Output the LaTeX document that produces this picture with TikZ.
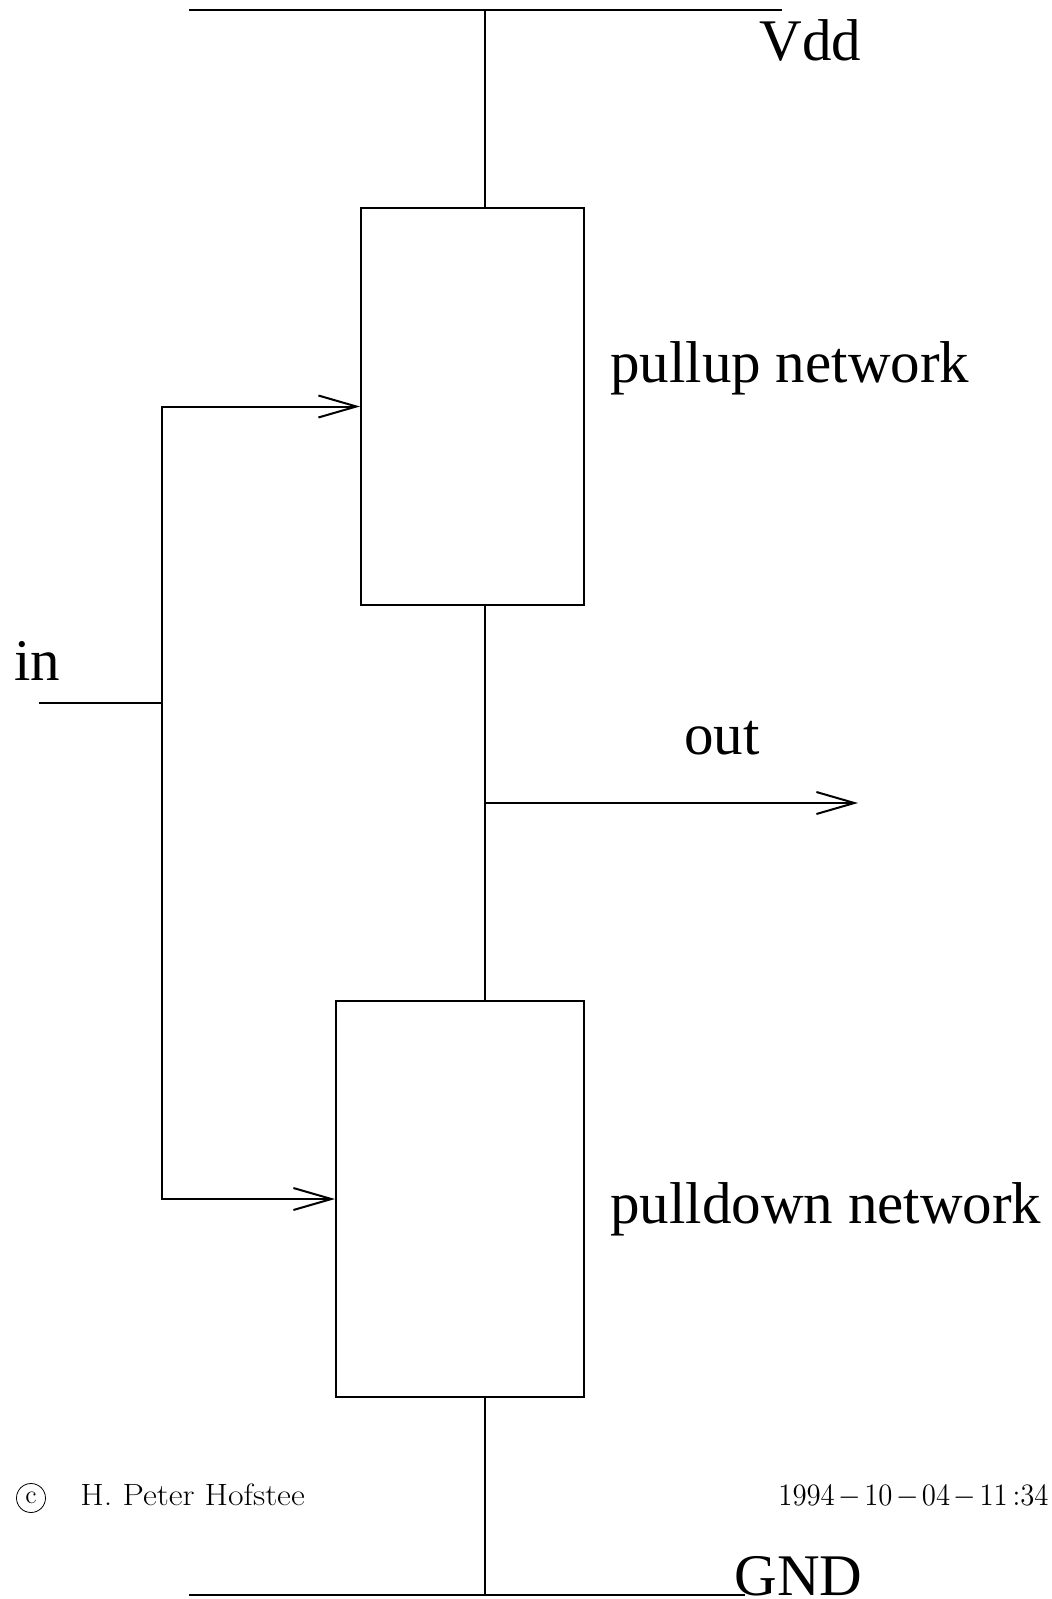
\documentclass[tikz,border=0pt]{standalone}
\usepackage{fontspec}
\newfontfamily\labelfont{Liberation Serif}
\usetikzlibrary{arrows.meta}

\newcommand\dsep{\mskip2.2mu{-}\mskip2.2mu}

\tikzset{
  wire/.style={line width=1pt},
  sig/.style={wire,-{Straight Barb[length=19pt,width=11pt,line width=1pt]}},
  netbox/.style={draw,line width=1pt,inner sep=0pt},
  lbl/.style={font=\labelfont\fontsize{29.5}{32}\selectfont,inner sep=0pt,anchor=base west},
  foot/.style={font=\fontsize{15.4}{18}\selectfont,inner sep=0pt}
}

\begin{document}
\begin{tikzpicture}[x=0.5pt,y=-0.5pt]
  \useasboundingbox (0,0) rectangle (1052,1599);
  % rails and taps
  \coordinate (vddl) at (189,10);  \coordinate (vddr) at (782,10);
  \coordinate (vddtap) at (485,10);
  \coordinate (gndl) at (189,1595); \coordinate (gndr) at (745,1595);
  \coordinate (gndtap) at (485,1595);
  \coordinate (inl) at (39,703);   \coordinate (inbus) at (162,703);
  \coordinate (outj) at (485,803); \coordinate (outr) at (858,803);
  % the two networks
  \node[netbox,minimum width=111.5pt,minimum height=198.5pt] (pu) at (472.5,406.5) {};
  \node[netbox,minimum width=124pt,minimum height=198pt] (pd) at (460,1199) {};
  \draw[wire] (vddl) -- (vddr);
  \draw[wire] (gndl) -- (gndr);
  \draw[wire] (vddtap) -- (vddtap |- pu.north);
  \draw[wire] (vddtap |- pu.south) -- (vddtap |- pd.north);
  \draw[wire] (vddtap |- pd.south) -- (gndtap);
  \draw[sig] (outj) -- (outr);
  % input fans out to both networks
  \draw[wire] (inl) -- (inbus);
  \draw[sig] (inbus) -- (inbus |- pu.west) -- (pu.west);
  \draw[sig] (inbus) -- (inbus |- pd.west) -- (pd.west);
  % labels
  \node[lbl] (vdd) at (759,61) {Vdd};
  \node[lbl] (gnd) at (734,1595) {GND};
  \node[lbl] (pul) at (610,382) {pullup network};
  \node[lbl] (pdl) at (610,1223) {pulldown network};
  \node[lbl] (in) at (14,680) {in};
  \node[lbl] (out) at (684,754) {out};
  % footer
  \node[draw,circle,line width=0.4pt,minimum size=14.5pt,inner sep=0pt,
        font=\fontsize{13}{14}\selectfont] (copy) at (31,1498) {c};
  \node[foot,anchor=base west] (auth) at (80,1505) {\scalebox{1.1}[1]{H. Peter Hofstee}};
  \node[foot,anchor=base east,font=\fontsize{14.6}{18}\selectfont] (date) at (1049,1505)
    {\scalebox{1}[1.08]{$1994\dsep10\dsep04\dsep11\,{:}34$}};
\end{tikzpicture}
\end{document}
